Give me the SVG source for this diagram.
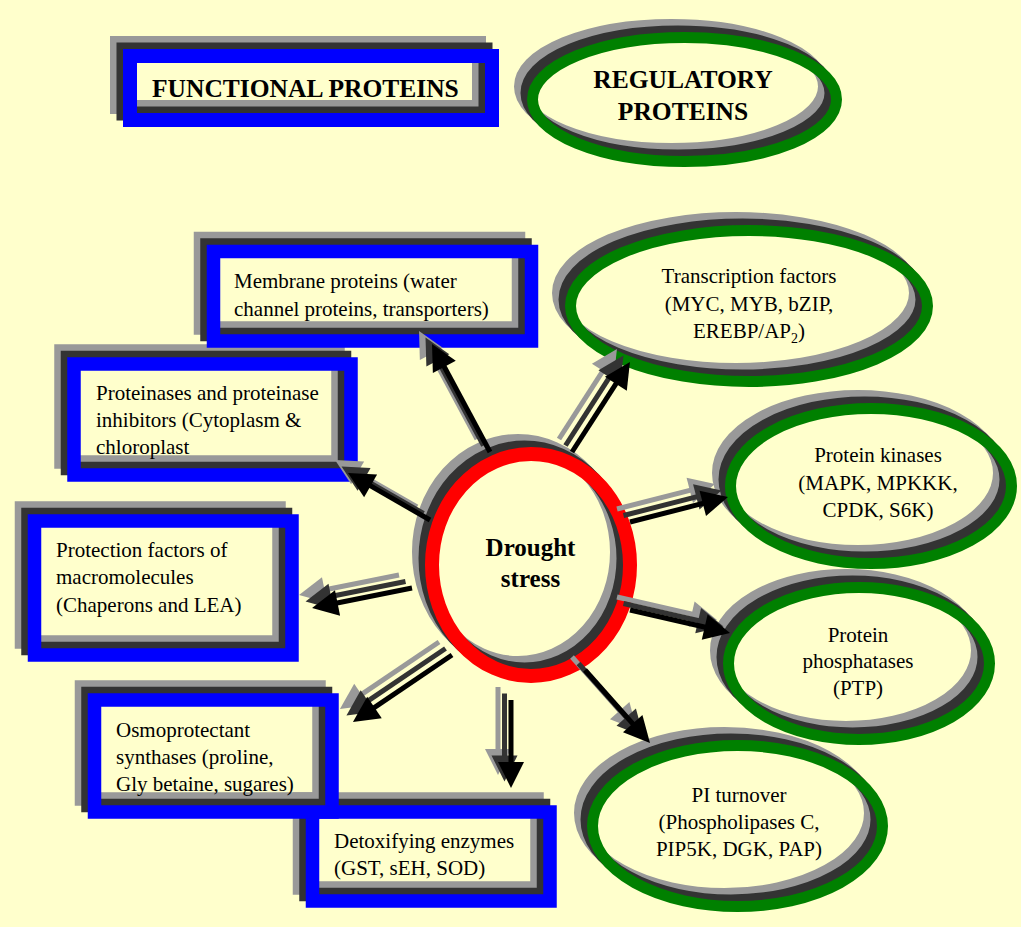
<svg xmlns="http://www.w3.org/2000/svg" width="1021" height="927" viewBox="0 0 1021 927">
<style>
.g{fill:none;stroke:#999999}
.d{fill:none;stroke:#333333}
.bl{fill:none;stroke:#0000ff}
.gn{fill:none;stroke:#008000}
.rd{fill:none;stroke:#ff0000}
.box{stroke-width:13.5}
.ell{stroke-width:11}
.ctr{stroke-width:14}
text{font-family:"Liberation Serif","Times New Roman",serif;fill:#000}
.t{font-size:21px}
.m{text-anchor:middle}
.h{font-size:25.5px;font-weight:bold}
.ag line{stroke:#999999;stroke-width:5;marker-end:url(#mg)}
.ad line{stroke:#333333;stroke-width:5;marker-end:url(#md)}
.ak line{stroke:#000000;stroke-width:5;marker-end:url(#mk)}
</style>
<defs>
<marker id="mg" markerUnits="userSpaceOnUse" markerWidth="26" markerHeight="26" refX="3" refY="13" orient="auto" overflow="visible"><path d="M0,0 L26,13 L0,26 Z" fill="#999999"/></marker>
<marker id="md" markerUnits="userSpaceOnUse" markerWidth="26" markerHeight="26" refX="3" refY="13" orient="auto" overflow="visible"><path d="M0,0 L26,13 L0,26 Z" fill="#333333"/></marker>
<marker id="mk" markerUnits="userSpaceOnUse" markerWidth="26" markerHeight="26" refX="3" refY="13" orient="auto" overflow="visible"><path d="M0,0 L26,13 L0,26 Z" fill="#000000"/></marker>
</defs>
<rect x="0" y="0" width="1021" height="927" fill="#ffffcc"/>

<g id="functional-proteins">
<rect class="g" transform="translate(-13,-13)" x="130" y="56" width="362" height="64" stroke-width="14"/>
<rect class="d" transform="translate(-6.5,-6.5)" x="130" y="56" width="362" height="64" stroke-width="14"/>
<rect class="bl" x="130" y="56" width="362" height="64" stroke-width="14"/>
<text class="h" x="152" y="97">FUNCTIONAL PROTEINS</text>
</g>

<g id="regulatory-proteins">
<ellipse class="g ell" transform="translate(-13,-13)" cx="684.5" cy="99.5" rx="152" ry="62"/>
<ellipse class="d ell" transform="translate(-6.5,-6.5)" cx="684.5" cy="99.5" rx="152" ry="62"/>
<ellipse class="gn ell" cx="684.5" cy="99.5" rx="152" ry="62"/>
<text class="h m" x="683" y="88">REGULATORY</text>
<text class="h m" x="683" y="120">PROTEINS</text>
</g>

<g id="proteinases">
<rect class="g box" transform="translate(-13,-13)" x="74" y="364" width="277" height="111"/>
<rect class="d box" transform="translate(-6.5,-6.5)" x="74" y="364" width="277" height="111"/>
<rect class="bl box" x="74" y="364" width="277" height="111"/>
<text class="t" x="96" y="400">Proteinases and proteinase</text>
<text class="t" x="96" y="427">inhibitors (Cytoplasm &amp;</text>
<text class="t" x="96" y="454">chloroplast</text>
</g>

<g id="membrane-proteins">
<rect class="g box" transform="translate(-13,-13)" x="213.5" y="251.5" width="318" height="89.5"/>
<rect class="d box" transform="translate(-6.5,-6.5)" x="213.5" y="251.5" width="318" height="89.5"/>
<rect class="bl box" x="213.5" y="251.5" width="318" height="89.5"/>
<text class="t" x="234" y="288">Membrane proteins (water</text>
<text class="t" x="234" y="316">channel proteins, transporters)</text>
</g>

<g id="protection-factors">
<rect class="g box" transform="translate(-13,-13)" x="34.5" y="521" width="257.5" height="134"/>
<rect class="d box" transform="translate(-6.5,-6.5)" x="34.5" y="521" width="257.5" height="134"/>
<rect class="bl box" x="34.5" y="521" width="257.5" height="134"/>
<text class="t" x="56" y="557">Protection factors of</text>
<text class="t" x="56" y="584">macromolecules</text>
<text class="t" x="56" y="612">(Chaperons and LEA)</text>
</g>

<g id="detoxifying-enzymes">
<rect class="g box" transform="translate(-13,-13)" x="312.5" y="812" width="237.5" height="89"/>
<rect class="d box" transform="translate(-6.5,-6.5)" x="312.5" y="812" width="237.5" height="89"/>
<rect class="bl box" x="312.5" y="812" width="237.5" height="89"/>
<text class="t" x="334" y="848">Detoxifying enzymes</text>
<text class="t" x="334" y="875">(GST, sEH, SOD)</text>
</g>

<g id="osmoprotectant">
<rect class="g box" transform="translate(-13,-13)" x="94.5" y="700" width="237.5" height="112"/>
<rect class="d box" transform="translate(-6.5,-6.5)" x="94.5" y="700" width="237.5" height="112"/>
<rect class="bl box" x="94.5" y="700" width="237.5" height="112"/>
<text class="t" x="116" y="737">Osmoprotectant</text>
<text class="t" x="116" y="764">synthases (proline,</text>
<text class="t" x="116" y="791">Gly betaine, sugares)</text>
</g>

<g id="transcription-factors">
<ellipse class="g ell" transform="translate(-13,-13)" cx="749" cy="306" rx="178.5" ry="75.5"/>
<ellipse class="d ell" transform="translate(-6.5,-6.5)" cx="749" cy="306" rx="178.5" ry="75.5"/>
<ellipse class="gn ell" cx="749" cy="306" rx="178.5" ry="75.5"/>
<text class="t m" x="749" y="283">Transcription factors</text>
<text class="t m" x="749" y="311">(MYC, MYB, bZIP,</text>
<text class="t m" x="749" y="338">EREBP/AP<tspan font-size="14" dy="5">2</tspan><tspan dy="-5">)</tspan></text>
</g>

<g id="protein-kinases">
<ellipse class="g ell" transform="translate(-13,-13)" cx="871" cy="486" rx="140.5" ry="77.5"/>
<ellipse class="d ell" transform="translate(-6.5,-6.5)" cx="871" cy="486" rx="140.5" ry="77.5"/>
<ellipse class="gn ell" cx="871" cy="486" rx="140.5" ry="77.5"/>
<text class="t m" x="878" y="462">Protein kinases</text>
<text class="t m" x="878" y="490">(MAPK, MPKKK,</text>
<text class="t m" x="878" y="517">CPDK, S6K)</text>
</g>

<g id="protein-phosphatases">
<ellipse class="g ell" transform="translate(-13,-13)" cx="859" cy="663.5" rx="130.5" ry="76"/>
<ellipse class="d ell" transform="translate(-6.5,-6.5)" cx="859" cy="663.5" rx="130.5" ry="76"/>
<ellipse class="gn ell" cx="859" cy="663.5" rx="130.5" ry="76"/>
<text class="t m" x="858" y="642">Protein</text>
<text class="t m" x="858" y="668">phosphatases</text>
<text class="t m" x="858" y="695">(PTP)</text>
</g>

<g id="pi-turnover">
<ellipse class="g ell" transform="translate(-13,-13)" cx="737.5" cy="826" rx="145" ry="80.5"/>
<ellipse class="d ell" transform="translate(-6.5,-6.5)" cx="737.5" cy="826" rx="145" ry="80.5"/>
<ellipse class="gn ell" cx="737.5" cy="826" rx="145" ry="80.5"/>
<text class="t m" x="739" y="802">PI turnover</text>
<text class="t m" x="739" y="829">(Phospholipases C,</text>
<text class="t m" x="739" y="856">PIP5K, DGK, PAP)</text>
</g>

<g id="drought-stress">
<ellipse class="g ctr" transform="translate(-13,-13)" cx="531" cy="565" rx="99" ry="111"/>
<ellipse class="d ctr" transform="translate(-6.5,-6.5)" cx="531" cy="565" rx="99" ry="111"/>
<ellipse class="rd ctr" cx="531" cy="565" rx="99" ry="111"/>
<text class="m" x="530.5" y="556" font-size="25" font-weight="bold">Drought</text>
<text class="m" x="530.5" y="587" font-size="25" font-weight="bold">stress</text>
</g>

<g id="connectors">
<g class="ag" transform="translate(-13,-13)">
<line x1="490" y1="452" x2="442.9" y2="364.3"/>
<line x1="572" y1="452" x2="617.5" y2="381.3"/>
<line x1="430" y1="520" x2="368" y2="484.4"/>
<line x1="412" y1="588" x2="334.6" y2="603.5"/>
<line x1="452" y1="655" x2="372" y2="709.1"/>
<line x1="511" y1="700" x2="511" y2="765"/>
<line x1="585" y1="670" x2="634.7" y2="725.8"/>
<line x1="630" y1="522" x2="705.7" y2="502.7"/>
<line x1="630" y1="610" x2="707.6" y2="627.8"/>
</g>
<g class="ad" transform="translate(-6.5,-6.5)">
<line x1="490" y1="452" x2="442.9" y2="364.3"/>
<line x1="572" y1="452" x2="617.5" y2="381.3"/>
<line x1="430" y1="520" x2="368" y2="484.4"/>
<line x1="412" y1="588" x2="334.6" y2="603.5"/>
<line x1="452" y1="655" x2="372" y2="709.1"/>
<line x1="511" y1="700" x2="511" y2="765"/>
<line x1="585" y1="670" x2="634.7" y2="725.8"/>
<line x1="630" y1="522" x2="705.7" y2="502.7"/>
<line x1="630" y1="610" x2="707.6" y2="627.8"/>
</g>
<g class="ak">
<line x1="490" y1="452" x2="442.9" y2="364.3"/>
<line x1="572" y1="452" x2="617.5" y2="381.3"/>
<line x1="430" y1="520" x2="368" y2="484.4"/>
<line x1="412" y1="588" x2="334.6" y2="603.5"/>
<line x1="452" y1="655" x2="372" y2="709.1"/>
<line x1="511" y1="700" x2="511" y2="765"/>
<line x1="585" y1="670" x2="634.7" y2="725.8"/>
<line x1="630" y1="522" x2="705.7" y2="502.7"/>
<line x1="630" y1="610" x2="707.6" y2="627.8"/>
</g>
</g>
</svg>
